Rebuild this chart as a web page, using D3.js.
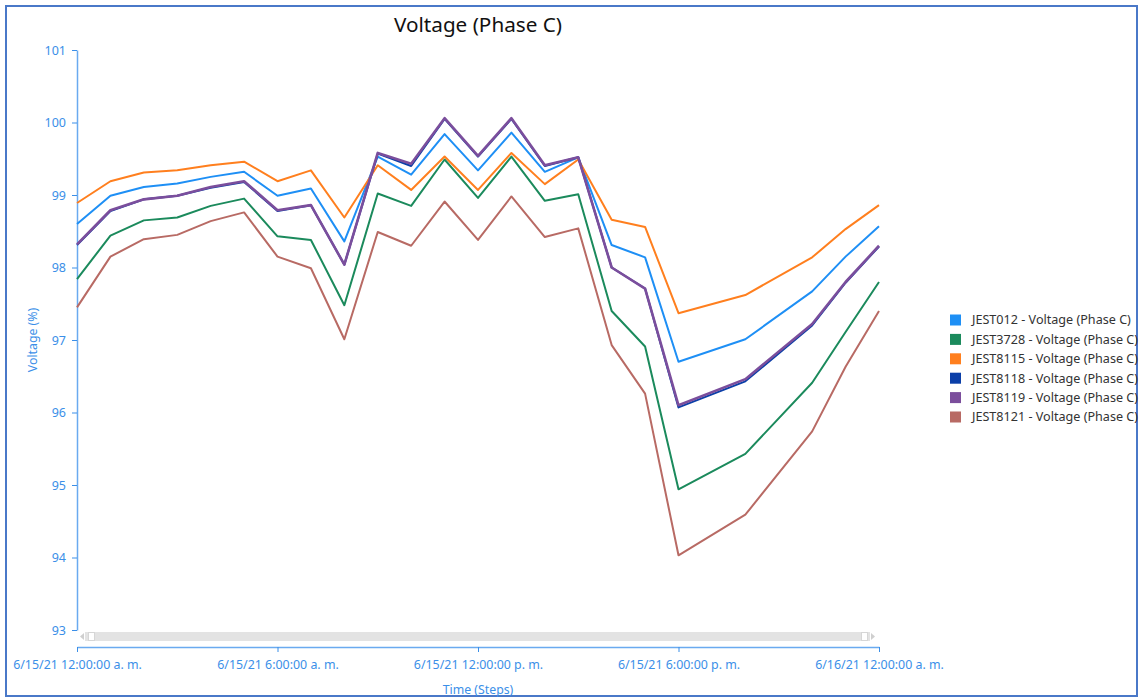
<!DOCTYPE html>
<html>
<head>
<meta charset="utf-8">
<script src="https://cdn.jsdelivr.net/npm/d3@7"></script>
<style>
  html, body { margin: 0; padding: 0; background: #fff; }
  svg { display: block; font-family: "Noto Sans", "Open Sans", sans-serif; }
</style>
</head>
<body>
<svg id="chart" width="1142" height="698"></svg>
<script>
// Hour offsets (from 6/15/21 00:00) at which readings were taken
const stepHours = [0, 1, 2, 3, 4, 5, 6, 7, 8, 9, 10, 11, 12, 13, 14, 15, 16, 17, 18, 20, 22, 23, 24];

const seriesNames = [
  "JEST012 - Voltage (Phase C)",
  "JEST3728 - Voltage (Phase C)",
  "JEST8115 - Voltage (Phase C)",
  "JEST8118 - Voltage (Phase C)",
  "JEST8119 - Voltage (Phase C)",
  "JEST8121 - Voltage (Phase C)"
];
const seriesColors = ["#1e8ff5", "#1b8a5c", "#ff7f1e", "#0b3fa8", "#7b4e9c", "#b86a64"];

const jest012  = [98.60, 98.99, 99.11, 99.16, 99.25, 99.32, 98.99, 99.09, 98.36, 99.53, 99.28, 99.84, 99.34, 99.86, 99.32, 99.52, 98.31, 98.14, 96.70, 97.01, 97.67, 98.15, 98.57];
const jest3728 = [97.84, 98.44, 98.65, 98.69, 98.85, 98.95, 98.43, 98.38, 97.48, 99.02, 98.85, 99.49, 98.96, 99.53, 98.92, 99.01, 97.40, 96.91, 94.94, 95.43, 96.41, 97.11, 97.80];
const jest8115 = [98.89, 99.19, 99.31, 99.34, 99.41, 99.46, 99.19, 99.34, 98.69, 99.41, 99.07, 99.53, 99.07, 99.58, 99.15, 99.49, 98.66, 98.56, 97.37, 97.62, 98.14, 98.53, 98.86];
const jest8118 = [98.31, 98.78, 98.94, 98.99, 99.10, 99.18, 98.78, 98.86, 98.04, 99.57, 99.40, 100.05, 99.53, 100.05, 99.40, 99.52, 98.00, 97.71, 96.07, 96.43, 97.20, 97.79, 98.29];
const jest8119 = [98.32, 98.79, 98.94, 98.99, 99.11, 99.19, 98.79, 98.86, 98.04, 99.58, 99.43, 100.06, 99.54, 100.06, 99.41, 99.52, 98.00, 97.71, 96.10, 96.46, 97.22, 97.80, 98.30];
const jest8121 = [97.45, 98.15, 98.39, 98.45, 98.64, 98.76, 98.15, 97.99, 97.01, 98.49, 98.30, 98.91, 98.38, 98.98, 98.42, 98.54, 96.93, 96.26, 94.03, 94.59, 95.74, 96.63, 97.40];

const yTicks = [93, 94, 95, 96, 97, 98, 99, 100, 101];
const xTickHours = [0, 6, 12, 18, 24];

const allSeries = [jest012, jest3728, jest8115, jest8118, jest8119, jest8121];

const start = new Date(2021, 5, 15, 0, 0, 0);
const toDate = h => d3.timeHour.offset(start, h);

const svg = d3.select("#chart");
const axisColor = "#3b8fe8";
const axisLineColor = "#6aaaf0";

// outer frame
svg.append("rect")
  .attr("x", 6).attr("y", 6).attr("width", 1131).attr("height", 690)
  .attr("fill", "#fff").attr("stroke", "#4a78c8").attr("stroke-width", 2);

const x = d3.scaleTime().domain([toDate(0), toDate(24)]).range([77, 879]);
const y = d3.scaleLinear().domain([93, 101]).range([630, 50]);

// title
svg.append("text")
  .attr("x", 478).attr("y", 32)
  .attr("text-anchor", "middle")
  .attr("font-size", 20.7).attr("fill", "#111")
  .text("Voltage (Phase C)");

// y axis
const yAxis = svg.append("g")
  .attr("transform", "translate(77,0)")
  .call(d3.axisLeft(y).tickValues(yTicks).tickSize(5).tickSizeOuter(0).tickPadding(6).tickFormat(d3.format("d")));
yAxis.select(".domain").attr("stroke", axisLineColor).attr("stroke-width", 1.5);
yAxis.selectAll(".tick line").attr("stroke", axisColor);
yAxis.selectAll(".tick text").attr("fill", axisColor).attr("font-size", 12.5).attr("font-family", "Noto Sans, sans-serif");

svg.append("text")
  .attr("transform", "translate(37,340) rotate(-90)")
  .attr("text-anchor", "middle")
  .attr("font-size", 12.3).attr("fill", axisColor)
  .text("Voltage (%)");

// scrollbar strip under the plot
svg.append("rect").attr("x", 85).attr("y", 632).attr("width", 785).attr("height", 9).attr("fill", "#e3e3e3");
svg.append("path").attr("d", "M84,633 L80,636.5 L84,640 Z").attr("fill", "#cfcfcf");
svg.append("path").attr("d", "M871,633 L875,636.5 L871,640 Z").attr("fill", "#cfcfcf");
svg.append("rect").attr("x", 88.5).attr("y", 632.5).attr("width", 6).attr("height", 8).attr("fill", "#fff").attr("stroke", "#d6d6d6");
svg.append("rect").attr("x", 861.5).attr("y", 632.5).attr("width", 6).attr("height", 8).attr("fill", "#fff").attr("stroke", "#d6d6d6");

// x axis
const monthDay = d3.timeFormat("%-m/%-d/%y");
const fmtTick = d => {
  const h = d.getHours();
  const h12 = h % 12 === 0 ? 12 : h % 12;
  return `${monthDay(d)} ${h12}:00:00 ${h < 12 ? "a. m." : "p. m."}`;
};
const xAxis = svg.append("g")
  .attr("transform", "translate(0,647)")
  .call(d3.axisBottom(x).tickValues(xTickHours.map(toDate)).tickSize(5).tickSizeOuter(0).tickPadding(8).tickFormat(fmtTick));
xAxis.select(".domain").attr("stroke", axisLineColor).attr("stroke-width", 1.5);
xAxis.selectAll(".tick line").attr("stroke", axisColor);
xAxis.selectAll(".tick text").attr("fill", axisColor).attr("font-size", 12.4).attr("font-family", "Noto Sans, sans-serif");

svg.append("text")
  .attr("x", 478).attr("y", 694)
  .attr("text-anchor", "middle")
  .attr("font-size", 12.3).attr("fill", axisColor)
  .text("Time (Steps)");

// series lines
const line = d3.line()
  .x((d, i) => x(toDate(stepHours[i])))
  .y(d => y(d));

svg.append("g").selectAll("path")
  .data(allSeries)
  .join("path")
  .attr("d", line)
  .attr("fill", "none")
  .attr("stroke", (d, i) => seriesColors[i])
  .attr("stroke-width", (d, i) => i === 4 ? 2.6 : 2)
  .attr("stroke-linejoin", "round");

// legend
const legend = svg.append("g").attr("transform", "translate(950,320)");
const rows = legend.selectAll("g")
  .data(seriesNames)
  .join("g")
  .attr("transform", (d, i) => `translate(0,${i * 19.4})`);
rows.append("rect")
  .attr("x", 0).attr("y", -5.5).attr("width", 11).attr("height", 11)
  .attr("fill", (d, i) => seriesColors[i]);
rows.append("text")
  .attr("x", 22).attr("y", 0).attr("dy", "0.35em")
  .attr("font-size", 12.6).attr("fill", "#333")
  .text(d => d);
</script>
</body>
</html>
